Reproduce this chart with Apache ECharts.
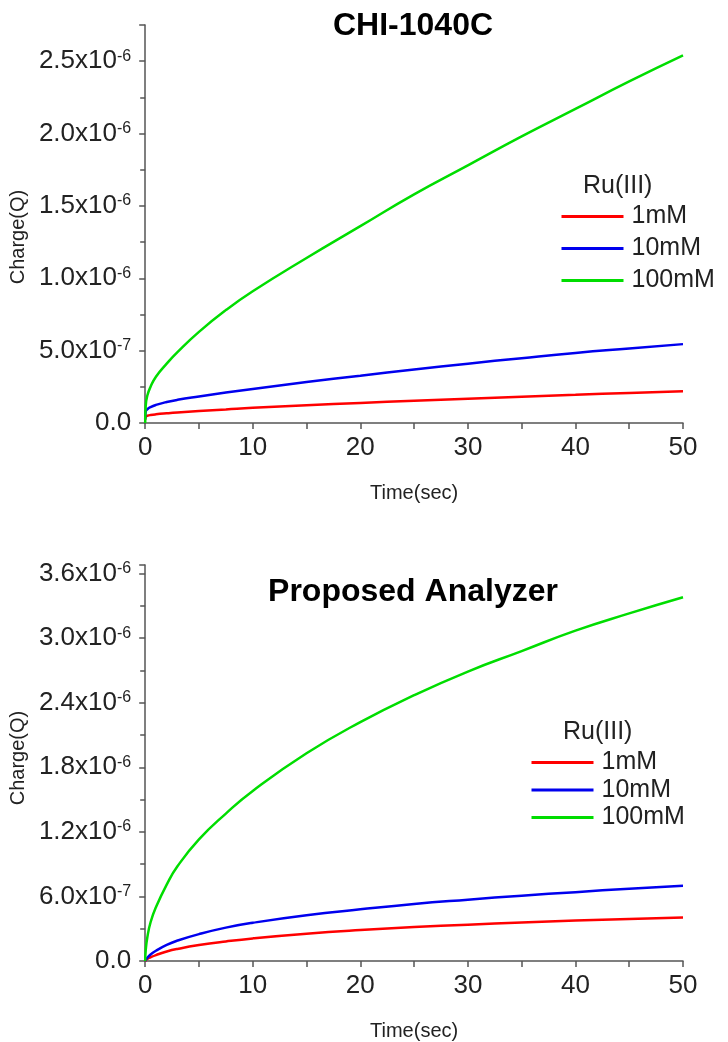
<!DOCTYPE html>
<html>
<head>
<meta charset="utf-8">
<title>Charge vs time</title>
<script src="https://cdn.jsdelivr.net/npm/echarts@6/dist/echarts.min.js"></script>
<style>
  html, body { margin: 0; padding: 0; background: #fff; }
  #chart { width: 728px; height: 1042px; }
</style>
</head>
<body>
<div id="chart"></div>
<script>
// time points (sec)
var times = [0, 0.05, 0.2, 0.5, 1, 2, 3, 5, 7.5, 10, 15, 20, 25, 30, 35, 40, 45, 50];

// CHI-1040C, charge in units of 1e-6 C
var chi1mM   = [0.02, 0.045, 0.05, 0.055, 0.06, 0.067, 0.073, 0.083, 0.094, 0.105, 0.123, 0.139, 0.154, 0.168, 0.182, 0.195, 0.208, 0.22];
var chi10mM  = [0.03, 0.08, 0.095, 0.11, 0.125, 0.145, 0.16, 0.183, 0.21, 0.235, 0.283, 0.327, 0.37, 0.41, 0.448, 0.484, 0.515, 0.545];
var chi100mM = [0, 0.12, 0.19, 0.25, 0.32, 0.41, 0.49, 0.63, 0.78, 0.91, 1.14, 1.36, 1.58, 1.78, 1.98, 2.17, 2.36, 2.54];

// Proposed Analyzer, charge in units of 1e-6 C
var pro1mM   = [0, 0.005, 0.02, 0.035, 0.055, 0.088, 0.112, 0.148, 0.182, 0.21, 0.253, 0.287, 0.315, 0.338, 0.358, 0.376, 0.391, 0.405];
var pro10mM  = [0, 0.01, 0.03, 0.06, 0.095, 0.15, 0.19, 0.25, 0.31, 0.355, 0.425, 0.48, 0.53, 0.57, 0.607, 0.64, 0.672, 0.70];
var pro100mM = [0, 0.1, 0.22, 0.36, 0.5, 0.71, 0.88, 1.13, 1.37, 1.58, 1.93, 2.22, 2.47, 2.69, 2.88, 3.07, 3.23, 3.38];

var seriesNames = ["1mM", "10mM", "100mM"];
var colors = ["#ff0000", "#0000ee", "#00dd00"];

var FONT = "'Liberation Sans', Arial, sans-serif";
var axisColor = "#555";
var textColor = "#222";

function pairs(vals) {
  return times.map(function (t, i) { return [t, vals[i]]; });
}

// label like 2.5x10^-6 (value given in 1e-6 units)
function sciLabel(step) {
  return function (v) {
    var k = v / step;
    if (Math.abs(k - Math.round(k)) > 1e-6) return "";
    if (Math.abs(v) < 1e-9) return "0.0";
    if (v < 1) return (v * 10).toFixed(1) + "x10{sup|-7}";
    return v.toFixed(1) + "x10{sup|-6}";
  };
}

function yAxisFor(gridIndex, max, step) {
  return {
    type: "value", gridIndex: gridIndex, min: 0, max: max, interval: step,
    name: "Charge(Q)", nameLocation: "middle", nameRotate: 90, nameGap: 112,
    nameTextStyle: { fontFamily: FONT, fontSize: 20, color: textColor, padding: gridIndex === 0 ? [0, 26, 0, 0] : [0, 0, 0, 10] },
    axisLine: { show: true, lineStyle: { color: axisColor, width: 1.5 } },
    axisTick: { show: true, inside: false, length: 6, lineStyle: { color: axisColor, width: 1.5 } },
    minorTick: { show: true, splitNumber: 2, length: 5, lineStyle: { color: axisColor, width: 1.5 } },
    splitLine: { show: false },
    axisLabel: {
      margin: 14, formatter: sciLabel(step),
      fontFamily: FONT, fontSize: 26, color: textColor,
      rich: { sup: { fontFamily: FONT, fontSize: 16, color: textColor, verticalAlign: "top", lineHeight: 24 } }
    }
  };
}

function xAxisFor(gridIndex) {
  return {
    type: "value", gridIndex: gridIndex, min: 0, max: 50, interval: 10,
    name: "Time(sec)", nameLocation: "middle", nameGap: 60,
    nameTextStyle: { fontFamily: FONT, fontSize: 20, color: textColor },
    axisLine: { show: true, onZero: false, lineStyle: { color: axisColor, width: 1.5 } },
    axisTick: { show: true, inside: false, length: 6, lineStyle: { color: axisColor, width: 1.5 } },
    minorTick: { show: true, splitNumber: 2, length: 6, lineStyle: { color: axisColor, width: 1.5 } },
    splitLine: { show: false },
    axisLabel: { margin: 12, fontFamily: FONT, fontSize: 26, color: textColor }
  };
}

function lineSeries(name, vals, idx, gridIdx) {
  return {
    name: name, type: "line", xAxisIndex: gridIdx, yAxisIndex: gridIdx,
    data: pairs(vals), symbol: "none", smooth: 0.5,
    lineStyle: { color: colors[idx], width: 2.5 }, itemStyle: { color: colors[idx] }
  };
}

function legendAt(left, top, gap) {
  return {
    orient: "vertical", left: left, top: top, data: seriesNames,
    itemWidth: 62, itemHeight: 25, itemGap: gap, padding: 0,
    itemStyle: { opacity: 0 },
    lineStyle: { width: 3 },
    textStyle: { fontFamily: FONT, fontSize: 25, color: textColor, padding: [0, 0, 0, 3] }
  };
}

var chart = echarts.init(document.getElementById("chart"), null, { renderer: "canvas" });
chart.setOption({
  animation: false,
  backgroundColor: "#fff",
  title: [
    { text: "CHI-1040C", left: 413, top: 10, textAlign: "center", padding: 0,
      textStyle: { fontFamily: FONT, fontSize: 32, fontWeight: "bold", color: "#000" } },
    { text: "Proposed Analyzer", left: 413, top: 576, textAlign: "center", padding: 0,
      textStyle: { fontFamily: FONT, fontSize: 32, fontWeight: "bold", color: "#000" } },
    { text: "Ru(III)", left: 583, top: 174, padding: 0,
      textStyle: { fontFamily: FONT, fontSize: 25, fontWeight: "normal", color: textColor } },
    { text: "Ru(III)", left: 563, top: 720, padding: 0,
      textStyle: { fontFamily: FONT, fontSize: 25, fontWeight: "normal", color: textColor } }
  ],
  legend: [legendAt(560, 204, 7), legendAt(530, 750, 2.5)],
  grid: [
    { left: 143, right: 45, top: 25, height: 398 },
    { left: 143, right: 45, top: 565, height: 398 }
  ],
  xAxis: [xAxisFor(0), xAxisFor(1)],
  yAxis: [yAxisFor(0, 2.75, 0.5), yAxisFor(1, 3.68, 0.6)],
  series: [
    lineSeries("1mM", chi1mM, 0, 0),
    lineSeries("10mM", chi10mM, 1, 0),
    lineSeries("100mM", chi100mM, 2, 0),
    lineSeries("1mM", pro1mM, 0, 1),
    lineSeries("10mM", pro10mM, 1, 1),
    lineSeries("100mM", pro100mM, 2, 1)
  ]
});
</script>
</body>
</html>
